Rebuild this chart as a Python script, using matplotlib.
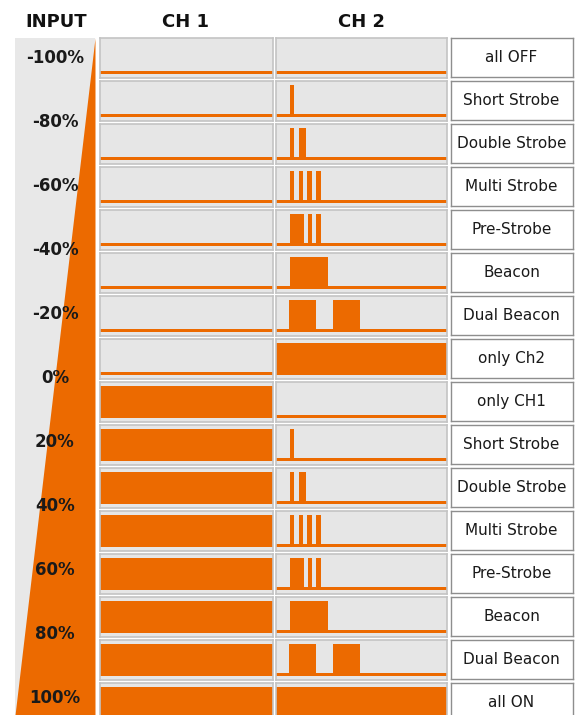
import matplotlib
matplotlib.use("Agg")
import matplotlib.pyplot as plt

W, H = 579, 715
ORANGE = "#ec6a00"
CELL = "#e6e6e6"
CELL_EDGE = "#c4c4c4"
BOX_EDGE = "#8e8e8e"

# input stick position, in percent
input_values = [-100, -80, -60, -40, -20, 0, 20, 40, 60, 80, 100]

modes = ["all OFF", "Short Strobe", "Double Strobe", "Multi Strobe", "Pre-Strobe",
         "Beacon", "Dual Beacon", "only Ch2", "only CH1", "Short Strobe",
         "Double Strobe", "Multi Strobe", "Pre-Strobe", "Beacon", "Dual Beacon", "all ON"]

# CH1 is either steady off (0) or steady on (1)
ch1_on = [0, 0, 0, 0, 0, 0, 0, 0, 1, 1, 1, 1, 1, 1, 1, 1]

# CH2 pulse trains: (start, end) as % of the shown time window
off = []
short = [(8.2, 10.7)]
double = [(8.2, 10.7), (13.6, 17.5)]
multi = [(8.2, 10.7), (13.3, 15.8), (18.3, 20.9), (23.4, 26.1)]
pre = [(8.2, 16.6), (18.5, 20.9), (23.4, 26.1)]
beacon = [(8.2, 30.2)]
dual = [(7.8, 23.4), (33.5, 49.1)]
on = [(0, 100)]
ch2_pulses = [off, short, double, multi, pre, beacon, dual, on,
              off, short, double, multi, pre, beacon, dual, on]

fig = plt.figure(figsize=(W / 100, H / 100), dpi=100)
fig.patch.set_facecolor("white")


def px_axes(x0, y0, x1, y1):
    """axes placed by pixel box (origin top-left)"""
    return fig.add_axes([x0 / W, 1 - y1 / H, (x1 - x0) / W, (y1 - y0) / H])


def waveform(pulses, low=0.16, high=0.89):
    t, y = [0], [low]
    for a, b in pulses:
        t += [a, a, b, b]
        y += [low, high, high, low]
    t.append(100)
    y.append(low)
    return t, y


def signal_cell(x0, x1, top, pulses):
    ax = px_axes(x0, top, x1, top + 39.5)
    ax.set_facecolor(CELL)
    t, y = waveform(pulses)
    ax.fill_between(t, 0.09, y, color=ORANGE, lw=0)
    ax.set_xlim(0, 100)
    ax.set_ylim(0, 1)
    ax.set_xticks([])
    ax.set_yticks([])
    for s in ax.spines.values():
        s.set_color(CELL_EDGE)
        s.set_linewidth(1.2)
    return ax


# input column: grey strip with orange wedge
ax_in = px_axes(15, 38, 95, 715)
ax_in.set_facecolor("#e8e8e8")
v_top, v_bot = -100 - 20 / 3.2, -100 + 657 / 3.2
ax_in.set_ylim(v_bot, v_top)
ax_in.set_xlim(0, 1)
ax_in.fill_betweenx([v_top, v_bot], [1, 0], [1, 1], color=ORANGE, lw=0)
for v in input_values:
    ax_in.text(0.5, v, f"{v}%", ha="center", va="center", fontsize=12,
               fontweight="bold", color="#1a1a1a")
ax_in.set_xticks([])
ax_in.set_yticks([])
for s in ax_in.spines.values():
    s.set_visible(False)

# headers
for x, label in [(56, "INPUT"), (186, "CH 1"), (362, "CH 2")]:
    fig.text(x / W, 1 - 22 / H, label, ha="center", va="center",
             fontsize=13, fontweight="bold", color="#111111")

# rows
for i, mode in enumerate(modes):
    top = 38 + 43.0 * i
    signal_cell(100, 272.5, top, on if ch1_on[i] else off)
    signal_cell(276, 447, top, ch2_pulses[i])

    box = px_axes(450.5, top, 572.5, top + 38.5)
    box.set_facecolor("white")
    box.set_xticks([])
    box.set_yticks([])
    for s in box.spines.values():
        s.set_color(BOX_EDGE)
        s.set_linewidth(1.0)
    box.text(0.5, 0.5, mode, ha="center", va="center", fontsize=11,
             color="#1a1a1a", transform=box.transAxes)

fig.savefig("out.png", dpi=100)
